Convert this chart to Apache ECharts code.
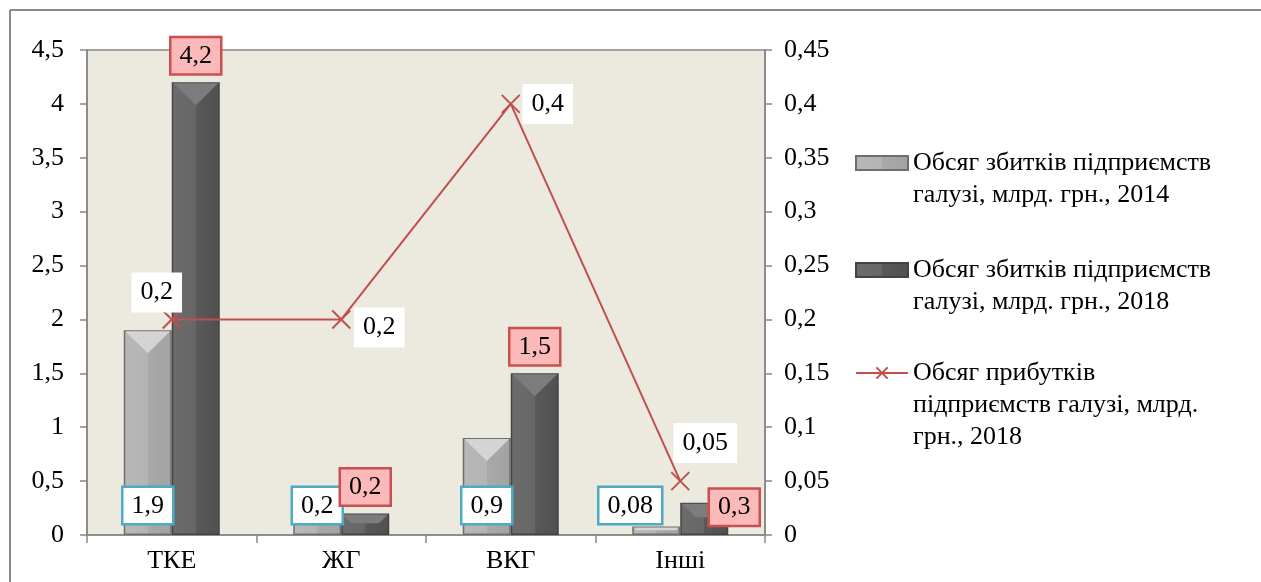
<!DOCTYPE html>
<html>
<head>
<meta charset="utf-8">
<script src="https://cdn.jsdelivr.net/npm/echarts@6/dist/echarts.min.js"></script>
<style>
html,body{margin:0;padding:0;background:#fff;}
#chart{width:1261px;height:582px;}
</style>
</head>
<body>
<div id="chart"></div>
<script>
// ---- data ----
const categories = ['ТКЕ', 'ЖГ', 'ВКГ', 'Інші'];
const losses2014 = [1.9, 0.2, 0.9, 0.08];
const losses2018 = [4.2, 0.2, 1.5, 0.3];
const profits2018 = [0.2, 0.2, 0.4, 0.05];
const seriesNames = [
  'Обсяг збитків підприємств галузі, млрд. грн., 2014',
  'Обсяг збитків підприємств галузі, млрд. грн., 2018',
  'Обсяг прибутків підприємств галузі, млрд. грн., 2018'
];
const legendLines = [
  ['Обсяг збитків підприємств', 'галузі, млрд. грн., 2014'],
  ['Обсяг збитків підприємств', 'галузі, млрд. грн., 2018'],
  ['Обсяг прибутків', 'підприємств галузі, млрд.', 'грн., 2018']
];
const leftAxisRange = {min: 0, max: 4.5, interval: 0.5};
const rightAxisRange = {min: 0, max: 0.45, interval: 0.05};

// ---- layout (label offsets, not data) ----
const BAR_W = 48;
const off2014 = [[0,0],[0,0],[0,0],[-26,0]];
const off2018 = [[0,0],[0,0],[0,0],[30,31]];
const offLine = [[-15,-27],[38,8],[37,0],[25,-38]];

const FONT = "'Liberation Serif', 'Times New Roman', serif";
const FS = 26;
const fmt = v => String(v).replace('.', ',');

const chart = echarts.init(document.getElementById('chart'));

const lblLine = {
  show: true, position: 'inside',
  formatter: p => fmt(p.value),
  fontFamily: FONT, fontSize: FS, lineHeight: 28, color: '#000',
  backgroundColor: '#fff', padding: [6, 9, 6, 9]
};

const dLine = profits2018.map((v, i) => ({value: v, label: {offset: offLine[i]}}));

function legendFor(i, iconCenterY) {
  const lines = legendLines[i];
  const n = lines.length;
  const lh = 32;
  const text = new Array(n - 1).fill(' ').concat(lines).join('\n');
  const total = (2 * n - 1) * lh;
  return {
    data: [seriesNames[i]],
    left: 855, top: iconCenterY - total / 2, orient: 'vertical', padding: 0,
    itemWidth: 52, itemHeight: 14, icon: i < 2 ? 'rect' : undefined,
    formatter: () => text,
    textStyle: {fontFamily: FONT, fontSize: FS, lineHeight: lh, color: '#000'}
  };
}

// bevel (top facet) of each bar + its value label, positioned through the axes
function bevelRenderer(side, light, offsets) {
  return function (params, api) {
    const i = params.dataIndex;
    const cat = api.value(0);
    const val = api.value(1);
    const c = api.coord([cat, 0]);
    const t = api.coord([cat, val]);
    const x0 = side < 0 ? c[0] - BAR_W : c[0];
    const x1 = x0 + BAR_W;
    const cx = x0 + BAR_W / 2;
    const h = c[1] - t[1];
    const d = Math.min(23, h * 0.45);
    const inset = Math.max(0, BAR_W / 2 - d * (BAR_W / 2) / 23);
    const off = offsets[i];
    const labelY = light ? c[1] - 12 : t[1] - 9;
    const textStyle = light ? {
      backgroundColor: '#fff', borderColor: '#4bacc6', borderWidth: 2.5
    } : {
      backgroundColor: '#fbb9b9', borderColor: '#c9504f', borderWidth: 2.5,
      boxShadowColor: 'rgba(0,0,0,0.25)', boxShadowBlur: 3, boxShadowOffsetX: 1, boxShadowOffsetY: 1
    };
    return {
      type: 'group',
      children: [
        {
          type: 'polygon', z2: 0,
          shape: {points: [[x0 + 1.5, t[1] + 1], [x1 - 1.5, t[1] + 1],
                           [cx + inset, t[1] + d], [cx - inset, t[1] + d]]},
          style: {fill: light ? '#d4d4d4' : '#7c7c7c'}
        },
        {
          type: 'text', z2: 10,
          x: cx + off[0], y: labelY + off[1],
          style: Object.assign({
            text: fmt(val), fontFamily: FONT, fontSize: FS, lineHeight: 28, fill: '#000',
            align: 'center', verticalAlign: 'bottom', padding: [4, 8, 3, 8]
          }, textStyle)
        }
      ]
    };
  };
}

const option = {
  animation: false,
  backgroundColor: '#fff',
  textStyle: {fontFamily: FONT},
  grid: {left: 87, right: 496, top: 50, bottom: 47, show: true,
         backgroundColor: '#ECE9DF', borderColor: '#868686', borderWidth: 1.5},
  legend: [legendFor(0, 163), legendFor(1, 270), legendFor(2, 373)],
  graphic: [
    {type: 'line', shape: {x1: 10, y1: 10, x2: 1261, y2: 10}, style: {stroke: '#8a8a8a', lineWidth: 2}},
    {type: 'line', shape: {x1: 10, y1: 10, x2: 10, y2: 582}, style: {stroke: '#8a8a8a', lineWidth: 2}}
  ],
  xAxis: {
    type: 'category', data: categories,
    axisLine: {lineStyle: {color: '#868686', width: 1.5}},
    axisTick: {show: true, length: 8, lineStyle: {color: '#868686', width: 1.5}},
    axisLabel: {fontFamily: FONT, fontSize: FS, color: '#000', margin: 13}
  },
  yAxis: [
    {
      type: 'value', min: leftAxisRange.min, max: leftAxisRange.max, interval: leftAxisRange.interval,
      splitLine: {show: false},
      axisLine: {show: true, lineStyle: {color: '#868686', width: 1.5}},
      axisTick: {show: true, length: 7, lineStyle: {color: '#868686', width: 1.5}},
      axisLabel: {fontFamily: FONT, fontSize: FS, color: '#000', margin: 23, formatter: fmt}
    },
    {
      type: 'value', min: rightAxisRange.min, max: rightAxisRange.max, interval: rightAxisRange.interval,
      splitLine: {show: false},
      axisLine: {show: true, lineStyle: {color: '#868686', width: 1.5}},
      axisTick: {show: true, length: 7, lineStyle: {color: '#868686', width: 1.5}},
      axisLabel: {fontFamily: FONT, fontSize: FS, color: '#000', margin: 19,
                  formatter: v => fmt(+v.toFixed(2))}
    }
  ],
  series: [
    {
      name: seriesNames[0], type: 'bar', yAxisIndex: 0, barWidth: BAR_W, barGap: '0%',
      data: losses2014,
      itemStyle: {
        color: new echarts.graphic.LinearGradient(0, 0, 1, 0, [
          {offset: 0, color: '#b8b8b8'}, {offset: 0.5, color: '#b4b4b4'},
          {offset: 0.5, color: '#a9a9a9'}, {offset: 1, color: '#a2a2a2'}]),
        borderColor: '#6e6e6e', borderWidth: 1.5
      },
      z: 2
    },
    {
      name: seriesNames[1], type: 'bar', yAxisIndex: 0, barWidth: BAR_W, barGap: '0%',
      data: losses2018,
      itemStyle: {
        color: new echarts.graphic.LinearGradient(0, 0, 1, 0, [
          {offset: 0, color: '#6c6c6c'}, {offset: 0.5, color: '#666666'},
          {offset: 0.5, color: '#595959'}, {offset: 1, color: '#505050'}]),
        borderColor: '#444', borderWidth: 1.5
      },
      z: 2
    },
    {
      type: 'custom', yAxisIndex: 0, z: 3, silent: true,
      data: losses2014.map((v, i) => [i, v]),
      encode: {x: 0, y: 1},
      renderItem: bevelRenderer(-1, true, off2014)
    },
    {
      type: 'custom', yAxisIndex: 0, z: 3, silent: true,
      data: losses2018.map((v, i) => [i, v]),
      encode: {x: 0, y: 1},
      renderItem: bevelRenderer(1, false, off2018)
    },
    {
      name: seriesNames[2], type: 'line', yAxisIndex: 1,
      data: dLine,
      symbol: 'path://M0,0L10,10M10,0L0,10', symbolSize: 18,
      lineStyle: {color: '#c0504d', width: 2},
      itemStyle: {color: '#c0504d', borderColor: '#c0504d', borderWidth: 2},
      label: lblLine, z: 5
    }
  ]
};
chart.setOption(option);
</script>
</body>
</html>
